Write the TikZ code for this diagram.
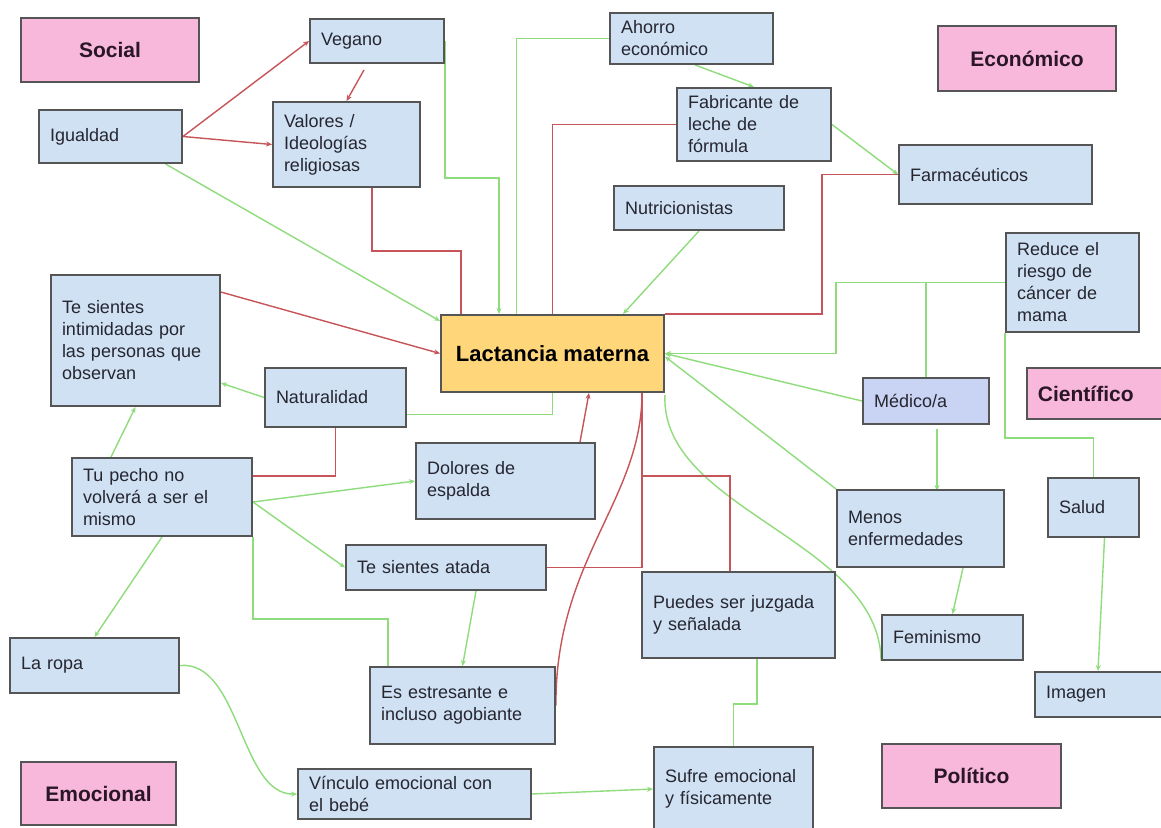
\documentclass[tikz,border=0pt]{standalone}
\usepackage{fontspec}
\setmainfont{Liberation Sans}
\usetikzlibrary{arrows.meta,backgrounds}

\definecolor{boxblue}{HTML}{CFE1F3}
\definecolor{medblue}{HTML}{C9D4F4}
\definecolor{boxline}{HTML}{555555}
\definecolor{catpink}{HTML}{F8B8DC}
\definecolor{mainyellow}{HTML}{FFD77A}
\definecolor{linkgreen}{HTML}{8EDC7C}
\definecolor{linkred}{HTML}{C65458}
\definecolor{txtgray}{HTML}{262630}
\definecolor{txtdark}{HTML}{2A1626}

\tikzset{
  box/.style={draw=boxline, fill=boxblue, line width=1.9pt, inner xsep=11pt, inner ysep=0pt,
    align=left, text=txtgray, font=\fontsize{18}{22}\selectfont},
  cat/.style={draw=boxline, fill=catpink, line width=1.9pt, inner sep=0pt,
    text=txtdark, font=\bfseries\fontsize{21}{25}\selectfont},
  gline/.style={draw=linkgreen, line width=1.4pt},
  rline/.style={draw=linkred, line width=1.4pt},
  arr/.style={-{Stealth[length=6pt,width=5pt]}}
}

\begin{document}
\begin{tikzpicture}[x=1pt,y=-1pt]
\useasboundingbox (0,0) rectangle (1161,827);

% categories
\node[cat, minimum width=178pt, minimum height=64pt] (social) at (110,50) {Social};
\node[cat, minimum width=178pt, minimum height=65pt] (economico) at (1027,58.5) {Económico};
\node[cat, anchor=west, minimum width=170pt, minimum height=51pt, inner xsep=11pt,
  text width=148pt, align=left] (cientifico) at (1026,393.5) {Científico};
\node[cat, minimum width=155pt, minimum height=63pt] (emocional) at (98.5,793.5) {Emocional};
\node[cat, minimum width=179pt, minimum height=64pt] (politico) at (971.5,776) {Político};

% centre
\node[draw=boxline, fill=mainyellow, line width=1.9pt, minimum width=223pt, minimum height=77pt,
  text=black, font=\bfseries\fontsize{22}{26}\selectfont] (lactancia) at (552.5,353.5) {Lactancia materna};

% left half
\node[box, text width=121pt, minimum height=53pt] (igualdad) at (110.5,136.5) {Igualdad};
\node[box, text width=112pt, minimum height=44pt] (vegano) at (377,41) {Vegano};
\node[box, text width=125pt, minimum height=85pt] (valores) at (346.5,144.5) {Valores /\\Ideologías\\religiosas};
\node[box, text width=147pt, minimum height=131pt] (intimidadas) at (135.5,340.5)
  {Te sientes\\intimidadas por\\las personas que\\observan};
\node[box, text width=119pt, minimum height=59pt] (naturalidad) at (335.5,397.5) {Naturalidad};
\node[box, text width=158pt, minimum height=78pt] (tupecho) at (162,497) {Tu pecho no\\volverá a ser el\\mismo};
\node[box, text width=157pt, minimum height=76pt] (dolores) at (505.5,481) {Dolores de\\espalda};
\node[box, text width=178pt, minimum height=45pt] (atada) at (446,567.5) {Te sientes atada};
\node[box, text width=147pt, minimum height=55pt] (ropa) at (94.5,665.5) {La ropa};
\node[box, text width=163pt, minimum height=77pt] (estresante) at (462.5,705.5) {Es estresante e\\incluso agobiante};
\node[box, text width=211pt, minimum height=50pt] (vinculo) at (414.5,794) {Vínculo emocional con\\el bebé};

% right half
\node[box, text width=141pt, minimum height=51pt] (ahorro) at (691.5,38.5) {Ahorro\\económico};
\node[box, text width=132pt, minimum height=73pt] (fabricante) at (754,124.5) {Fabricante de\\leche de\\fórmula};
\node[box, text width=171pt, minimum height=59pt] (farmaceuticos) at (995.5,174.5) {Farmacéuticos};
\node[box, text width=148pt, minimum height=44pt] (nutricionistas) at (699,208) {Nutricionistas};
\node[box, text width=111pt, minimum height=99pt] (reduce) at (1072.5,282.5) {Reduce el\\riesgo de\\cáncer de\\mama};
\node[box, fill=medblue, text width=104pt, minimum height=46pt] (medico) at (926,401) {Médico/a};
\node[box, text width=145pt, minimum height=77pt] (menos) at (920.5,528.5) {Menos\\enfermedades};
\node[box, text width=69pt, minimum height=59pt] (salud) at (1093.5,507.5) {Salud};
\node[box, text width=119pt, minimum height=45pt] (feminismo) at (952.5,637.5) {Feminismo};
\node[box, text width=171pt, minimum height=86pt] (puedes) at (738.5,615) {Puedes ser juzgada\\y señalada};
\node[box, text width=118pt, minimum height=45pt] (imagen) at (1105,694.5) {Imagen};
\node[box, text width=137pt, minimum height=84pt] (sufre) at (733.5,789) {Sufre emocional\\y físicamente};

\begin{scope}[on background layer]
\fill[white] (0,0) rectangle (1161,827);
% social
\draw[rline,arr] (igualdad.east) -- (vegano.west);
\draw[rline,arr] (igualdad.east) -- (valores.west);
\draw[rline,arr] ([xshift=-13pt,yshift=-6pt]vegano.south) -- (valores.north);
\draw[gline,arr] ([xshift=55pt]igualdad.south) -- ([yshift=-7pt]lactancia.north west);
\draw[rline,arr] ([yshift=-18pt]intimidadas.north east) -- (lactancia.west);
\draw[rline] ([xshift=25.5pt]valores.south) -- ++(0,63) -| ([xshift=-91.5pt]lactancia.north);
\draw[gline,arr] (vegano.east) -- ++(0,137) -| ([xshift=-53.5pt]lactancia.north);
% economico
\draw[gline] (ahorro.west) -| ([xshift=-36pt]lactancia.north);
\draw[rline] (fabricante.west) -| (lactancia.north);
\draw[gline,arr] ([xshift=3.5pt]ahorro.south) -- (fabricante.north);
\draw[gline,arr] (fabricante.east) -- (farmaceuticos.west);
\draw[rline] (lactancia.north east) -- ++(157,0) |- (farmaceuticos.west);
\draw[gline,arr] (nutricionistas.south) -- ([xshift=70.5pt]lactancia.north);
% cientifico
\draw[gline,arr] (reduce.west) -- ++(-169,0) |- (lactancia.east);
\draw[gline] (reduce.west -| medico.north) -- (medico.north);
\draw[gline] (reduce.south west) -- ++(0,105) -| (salud.north);
\draw[gline,arr] (medico.west) -- (lactancia.east);
\draw[gline,arr] ([xshift=11pt,yshift=-4pt]medico.south) -- ++(0,62);
\draw[gline,arr] (menos.north west) -- ([yshift=-3pt]lactancia.east);
\draw[gline] ([yshift=-2pt]lactancia.south east) .. controls (660,510) and (880,540) .. (feminismo.south west);
\draw[gline,arr] ([xshift=42.5pt]menos.south) -- (feminismo.north);
\draw[gline,arr] ([xshift=11pt]salud.south) -- ([xshift=-7pt]imagen.north);
% politico
\draw[rline] ([xshift=-8.5pt]puedes.north) -- ++(0,-95) -| ([xshift=89.5pt]lactancia.south);
\draw[rline] (atada.east) -| ([xshift=89.5pt]lactancia.south);
\draw[rline] (estresante.east) .. controls (555,560) and (642,500) .. ([xshift=89.5pt]lactancia.south);
\draw[rline,arr] ([xshift=74.5pt]dolores.north) -- ([xshift=36.5pt]lactancia.south);
% emocional
\draw[gline] ([yshift=-17pt]naturalidad.east) -| (lactancia.south);
\draw[gline,arr] (naturalidad.west) -- ([yshift=-42.5pt]intimidadas.east);
\draw[rline] (naturalidad.south) |- ([yshift=21pt]tupecho.east);
\draw[gline,arr] ([xshift=-51pt]tupecho.north) -- (intimidadas.south);
\draw[gline,arr] ([yshift=-5pt]tupecho.east) -- (dolores.west);
\draw[gline,arr] ([yshift=-5pt]tupecho.east) -- (atada.west);
\draw[gline] (tupecho.south east) -- ++(0,82) -| ([xshift=-74.5pt]estresante.north);
\draw[gline,arr] ([xshift=30pt]atada.south) -- (estresante.north);
\draw[gline,arr] (tupecho.south) -- (ropa.north);
\draw[gline,arr] (ropa.east) .. controls (240,660) and (240,795) .. (vinculo.west);
\draw[gline,arr] (vinculo.east) -- (sufre.west);
\draw[gline] ([xshift=18.5pt]puedes.south) -- ++(0,45) -| (sufre.north);
\end{scope}
\end{tikzpicture}
\end{document}
